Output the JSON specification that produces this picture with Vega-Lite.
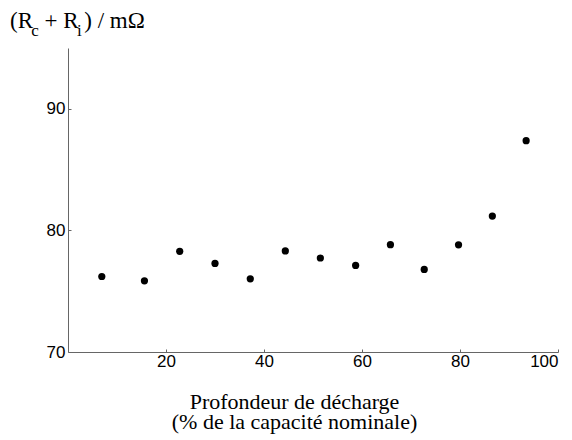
{
  "$schema": "https://vega.github.io/schema/vega-lite/v6.json",
  "width": 490,
  "height": 304,
  "autosize": {"type": "none"},
  "padding": {"left": 68, "top": 48, "right": 14, "bottom": 88},
  "background": "white",
  "config": {"view": {"stroke": null}},
  "title": {
    "text": "(R\u00a0\u00a0+ R\u00a0) / mΩ",
    "subtitle": "\u200b\u00a0\u00a0\u00a0\u00a0\u00a0c\u00a0\u00a0\u00a0\u00a0\u00a0\u00a0\u00a0\u00a0\u00a0i",
    "anchor": "start",
    "frame": "group",
    "dx": -58,
    "offset": 9,
    "font": "Liberation Serif",
    "fontSize": 23,
    "fontWeight": "normal",
    "color": "black",
    "subtitleFont": "Liberation Serif",
    "subtitleFontSize": 17,
    "subtitleColor": "black",
    "subtitlePadding": -10
  },
  "data": {
    "values": [
      {"dod": 6.9, "r": 76.21},
      {"dod": 15.6, "r": 75.85},
      {"dod": 22.8, "r": 78.28},
      {"dod": 30.0, "r": 77.28},
      {"dod": 37.2, "r": 76.02},
      {"dod": 44.35, "r": 78.31},
      {"dod": 51.5, "r": 77.73},
      {"dod": 58.7, "r": 77.12},
      {"dod": 65.8, "r": 78.83},
      {"dod": 72.7, "r": 76.79},
      {"dod": 79.7, "r": 78.81},
      {"dod": 86.6, "r": 81.18},
      {"dod": 93.5, "r": 87.38}
    ]
  },
  "mark": {"type": "circle", "size": 52, "color": "black", "opacity": 1},
  "encoding": {
    "x": {
      "field": "dod",
      "type": "quantitative",
      "scale": {"domain": [0, 100], "nice": false, "zero": false},
      "axis": {
        "values": [20, 40, 60, 80, 100],
        "grid": false,
        "domainColor": "#666",
        "tickColor": "#666",
        "tickSize": -3,
        "labelPadding": 4,
        "labelFont": "Liberation Sans",
        "labelFontSize": 17,
        "labelColor": "black",
        "title": ["Profondeur de décharge", "(% de la capacité nominale)"],
        "titleFont": "Liberation Serif",
        "titleFontSize": 22,
        "titleFontWeight": "normal",
        "titleColor": "black",
        "titleLineHeight": 20,
        "titleBaseline": "alphabetic",
        "titleAlign": "center",
        "titleX": 226,
        "titleY": 56
      }
    },
    "y": {
      "field": "r",
      "type": "quantitative",
      "scale": {"domain": [70, 95], "nice": false, "zero": false},
      "axis": {
        "values": [70, 80, 90],
        "grid": false,
        "domainColor": "#666",
        "tickColor": "#666",
        "tickSize": -3,
        "labelPadding": 6,
        "labelFont": "Liberation Sans",
        "labelFontSize": 17,
        "labelColor": "black",
        "title": null
      }
    }
  }
}
